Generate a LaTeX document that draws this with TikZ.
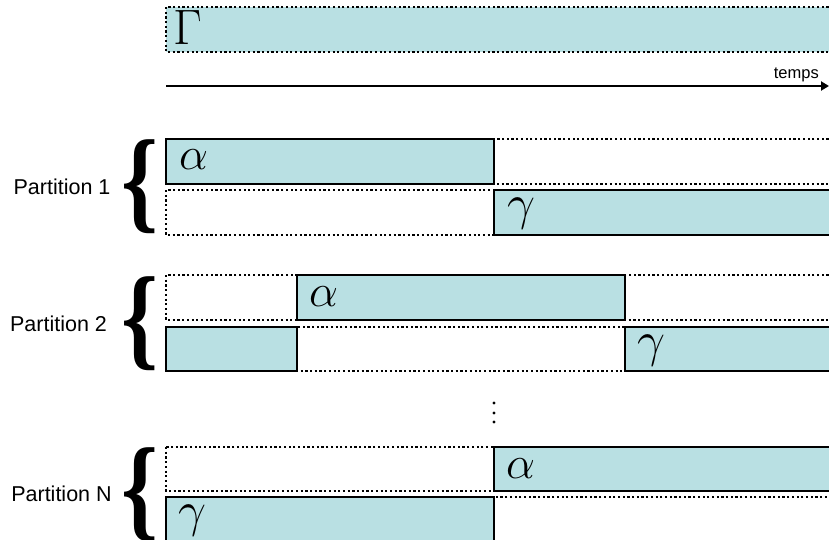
\documentclass[tikz,border=0pt]{standalone}
\usepackage{graphicx}
\usepackage{fontspec}
\setmainfont{Liberation Sans}
\newfontfamily\bracefont{Liberation Serif}
\usetikzlibrary{arrows.meta}
\definecolor{boxfill}{RGB}{185,224,227}
\newcommand{\bigsym}[2][2]{\scalebox{#1}{\fontsize{24.88}{30}\selectfont$#2$}}
\newcommand{\bigbr}{\resizebox*{37pt}{94pt}{\bracefont\bfseries\{}}
\begin{document}
\begin{tikzpicture}[x=1pt,y=-1pt,
  slot/.style={draw=black, line width=2.2pt, dash pattern=on 2.2pt off 2.5pt},
  busy/.style={draw=black, line width=2.8pt, fill=boxfill},
  greek/.style={anchor=base west, inner sep=0pt},
  plabel/.style={font=\fontsize{21.5}{25}\selectfont, anchor=center, inner sep=0pt},
  bigbrace/.style={inner sep=0pt, anchor=center}]
\useasboundingbox (0,0) rectangle (829,540);
\clip (0,0) rectangle (829,540);

% Gamma row
\draw[slot, fill=boxfill] (166,7) rectangle (840,52);
\node[greek] (G) at (173,45) {\bigsym{\Gamma}};

% time axis
\coordinate (ts) at (166,86);
\coordinate (te) at (829,86);
\draw[line width=2.2pt, -{Triangle[length=8pt,width=9pt]}] (ts) -- (te);
\node[anchor=base east, inner sep=0pt, font=\fontsize{16.5}{19}\selectfont] (temps) at (819,79) {temps};

% Partition 1
\draw[slot] (166,139) rectangle (840,184);
\draw[slot] (166,190) rectangle (840,235);
\draw[busy] (166,139) rectangle (494,184);
\draw[busy] (494,190) rectangle (840,235);
\node[greek] (a1) at (179,170) {\bigsym[1.85]{\alpha}};
\node[greek] (g1) at (507,219) {\bigsym{\gamma}};
\node[bigbrace] (b1) at (140,187) {\bigbr};
\node[plabel] (p1) at (62,187) {Partition 1};

% Partition 2
\draw[slot] (166,275) rectangle (840,320);
\draw[slot] (166,327) rectangle (840,371);
\draw[busy] (297,275) rectangle (625,320);
\draw[busy] (166,327) rectangle (297,371);
\draw[busy] (625,327) rectangle (840,371);
\node[greek] (a2) at (309,306) {\bigsym[1.85]{\alpha}};
\node[greek] (g2) at (637,356) {\bigsym{\gamma}};
\node[bigbrace] (b2) at (140,324) {\bigbr};
\node[plabel] (p2) at (58.5,324) {Partition 2};

% dots
\foreach \yy in {403,413,422} \fill (494,\yy) circle (1.7);

% Partition N
\draw[slot] (166,447) rectangle (840,491);
\draw[slot] (166,497) rectangle (840,560);
\draw[busy] (494,447) rectangle (840,491);
\draw[busy] (166,497) rectangle (494,560);
\node[greek] (aN) at (506,478) {\bigsym[1.85]{\alpha}};
\node[greek] (gN) at (178,526) {\bigsym{\gamma}};
\node[bigbrace] (bN) at (140,495) {\bigbr};
\node[plabel] (pN) at (61.5,494) {Partition N};
\end{tikzpicture}
\end{document}
